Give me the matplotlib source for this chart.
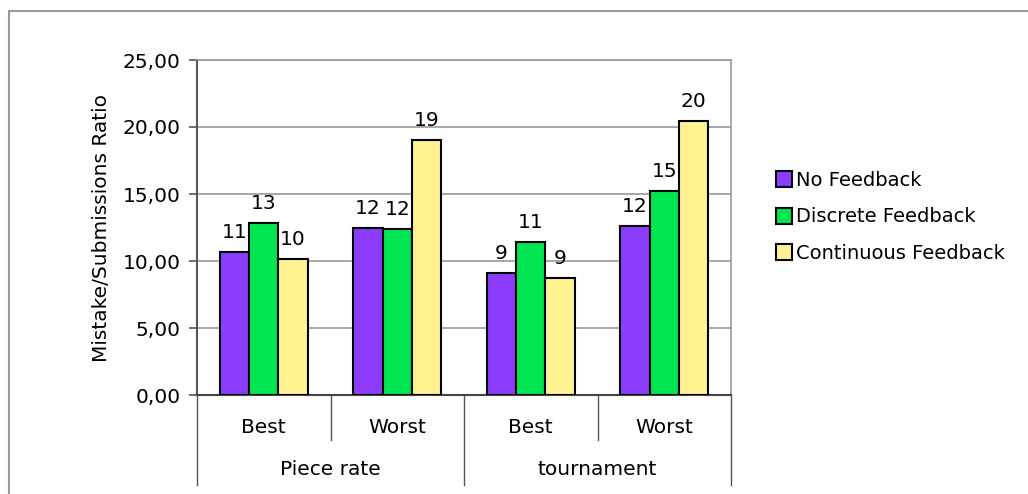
import matplotlib.pyplot as plt
import matplotlib.transforms as mtransforms
from matplotlib.patches import Rectangle
import numpy as np

# Datos
grupos = ['Piece rate', 'tournament']
subgrupos = ['Best', 'Worst', 'Best', 'Worst']
series = ['No Feedback', 'Discrete Feedback', 'Continuous Feedback']
no_feedback = [10.67, 12.46, 9.10, 12.60]
discrete_feedback = [12.84, 12.39, 11.42, 15.22]
continuous_feedback = [10.15, 19.03, 8.73, 20.45]
# Etiquetas tal como aparecen sobre las barras
etiquetas_no = [11, 12, 9, 12]
etiquetas_discrete = [13, 12, 11, 15]
etiquetas_continuous = [10, 19, 9, 20]
colores = ['#8C3CFF', '#00E650', '#FFF290']

plt.rcParams['font.family'] = 'DejaVu Sans'
fs = 14.5

fig = plt.figure(figsize=(10.28, 4.94), dpi=100)
ax = fig.add_axes([197/1028, 1-395/494, (731-197)/1028, (395-60)/494])

# Marco de la figura
fig.patches.append(Rectangle((9/1028, -0.5), 2, 0.5 + 1 - 11/494,
                             transform=fig.transFigure, fill=False,
                             edgecolor='#999999', linewidth=1.5))

x = np.arange(len(subgrupos))
ancho = 0.22
valores = [no_feedback, discrete_feedback, continuous_feedback]
etiquetas = [etiquetas_no, etiquetas_discrete, etiquetas_continuous]
for i, (vals, etqs, nombre) in enumerate(zip(valores, etiquetas, series)):
    pos = x + (i - 1) * ancho
    ax.bar(pos, vals, ancho, color=colores[i], edgecolor='black',
           linewidth=1.5, label=nombre, zorder=3)
    for px, v, e in zip(pos, vals, etqs):
        ax.annotate(str(e), (px, v), xytext=(0, 7), textcoords='offset points',
                    ha='center', va='bottom', fontsize=fs)

ax.set_xlim(-0.5, len(subgrupos) - 0.5)
ax.set_ylim(0, 25)
ax.set_yticks(np.arange(0, 26, 5))
ax.set_yticklabels([f'{t:.2f}'.replace('.', ',') for t in np.arange(0, 26, 5)], fontsize=fs)
ax.yaxis.grid(True, color='#999999', linewidth=1.2, zorder=0)
ax.tick_params(axis='y', direction='out', length=6, color='#555555', width=1.2, pad=6)
ax.set_xticks([])
for lado in ['top', 'right']:
    ax.spines[lado].set_color('#999999')
    ax.spines[lado].set_linewidth(1.2)
ax.spines['left'].set_color('#555555')
ax.spines['left'].set_linewidth(1.5)
ax.spines['bottom'].set_color('#444444')
ax.spines['bottom'].set_linewidth(1.5)
ax.set_ylabel('Mistake/Submissions Ratio', fontsize=fs, labelpad=8)

# Etiquetas de categorias en dos niveles
trans = mtransforms.blended_transform_factory(ax.transData, ax.transAxes)
h = 395 - 60
for i, s in enumerate(subgrupos):
    ax.text(x[i], -(427 - 395) / h, s, transform=trans, ha='center', va='center', fontsize=fs)
for g, nombre in enumerate(grupos):
    ax.text(2 * g + 0.5, -(469 - 395) / h, nombre, transform=trans,
            ha='center', va='center', fontsize=fs)
bordes = np.arange(len(subgrupos) + 1) - 0.5
for j, b in enumerate(bordes):
    abajo = -(485 - 395) / h if j % 2 == 0 else -(440 - 395) / h
    ax.plot([b, b], [0, abajo], transform=trans, color='#555555',
            linewidth=1, clip_on=False)

fig.legend(loc='center left', bbox_to_anchor=(768/1028, 1 - 217/494), frameon=False,
           fontsize=14, handlelength=0.85, handleheight=0.9, handletextpad=0.2,
           labelspacing=0.9, borderaxespad=0)

fig.savefig('out.png', dpi=100)
